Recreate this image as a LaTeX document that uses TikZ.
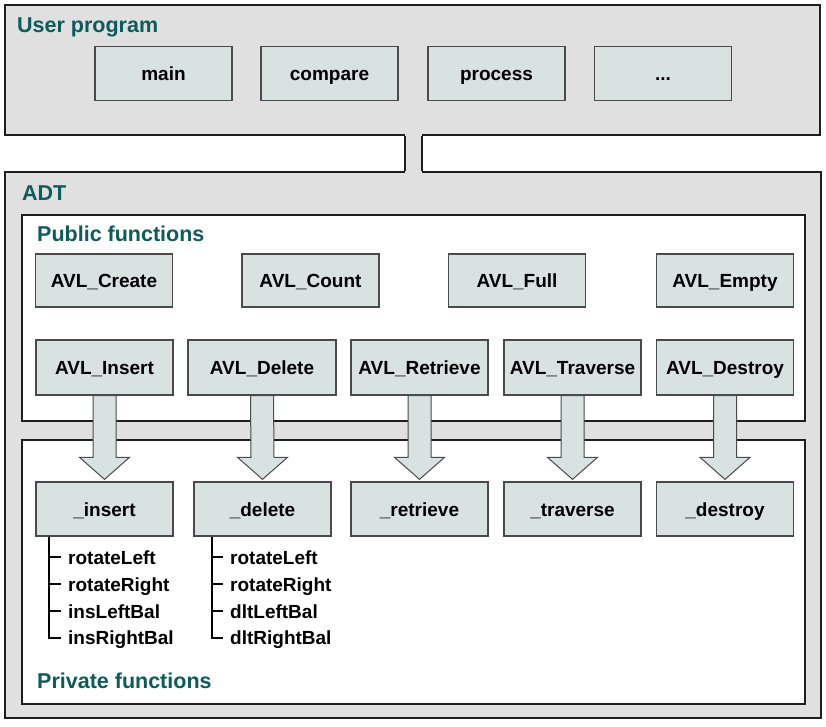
\documentclass[tikz,border=0pt]{standalone}
\usepackage{fontspec}
\setmainfont{Liberation Sans}
\usetikzlibrary{calc,positioning}
\definecolor{adtgray}{HTML}{E0E0E0}
\definecolor{fnfill}{HTML}{D8E2E0}
\definecolor{headteal}{HTML}{0E5B5B}
\definecolor{boxdark}{HTML}{1E1E1E}
\definecolor{fnedge}{HTML}{4A4A4A}
\tikzset{
  areabox/.style={
    draw=boxdark,
    line width=2.4pt,
    inner sep=0pt
  },
  graybox/.style={
    areabox,
    fill=adtgray
  },
  whitebox/.style={
    areabox,
    fill=white
  },
  fnbox/.style={
    draw=fnedge,
    fill=fnfill,
    line width=1.3pt,
    minimum width=137pt,
    minimum height=54pt,
    inner sep=0pt,
    text height=16.5pt,
    text depth=2pt,
    font=\bfseries\fontsize{19}{22}\selectfont
  },
  heading/.style={
    anchor=base west,
    inner sep=0pt,
    text=headteal,
    font=\bfseries\fontsize{21.5}{24}\selectfont
  },
  helper/.style={
    text width=120pt,
    align=left,
    inner xsep=7pt,
    inner ysep=0pt,
    text height=16.5pt,
    text depth=2pt,
    minimum height=26.5pt,
    font=\bfseries\fontsize{19}{22}\selectfont
  },
  treeline/.style={
    draw=black,
    line width=2.2pt
  },
  fatarrow/.style={
    draw=fnedge,
    fill=fnfill,
    line width=1pt,
    line join=miter
  }
}
\begin{document}
\begin{tikzpicture}[x=1pt,y=-1pt]
    \useasboundingbox (0,0) rectangle (826,726);

    % areas
    \node[graybox, minimum width=815pt, minimum height=130pt] (user) at (412.5,70) {};
    \node[graybox, minimum width=816pt, minimum height=546pt] (adt) at (413,445) {};
    \node[whitebox, minimum width=783pt, minimum height=206pt] (public) at (413.5,318) {};
    \node[whitebox, minimum width=783pt, minimum height=264pt] (private) at (413.5,572) {};

    % pipe between user program and ADT
    \fill[adtgray] ($(user.south)+(-7.5,-2)$) rectangle ($(user.south |- adt.north)+(9.5,2)$);
    \draw[areabox] ([xshift=-7.5pt]user.south) -- ([xshift=-7.5pt]user.south |- adt.north);
    \draw[areabox] ([xshift=9.5pt]user.south) -- ([xshift=9.5pt]user.south |- adt.north);

    \node[heading] (tuser) at (17,32) {User program};
    \node[heading] (tadt) at (22,200) {ADT};
    \node[heading] (tpublic) at (37,241) {Public functions};
    \node[heading] (tprivate) at (37,688) {Private functions};

    % user program
    \node[fnbox] (main) at (163.5,73.5) {main};
    \node[fnbox] (compare) at (329.5,73.5) {compare};
    \node[fnbox] (process) at (496.5,73.5) {process};
    \node[fnbox] (more) at (663,73.5) {...};

    % public functions
    \node[fnbox, minimum height=53pt] (pcre) at (104,280.5) {AVL\_Create};
    \node[fnbox, minimum height=53pt] (pcnt) at (310.5,280.5) {AVL\_Count};
    \node[fnbox, minimum height=53pt] (pful) at (517,280.5) {AVL\_Full};
    \node[fnbox, minimum height=53pt] (pemp) at (725,280.5) {AVL\_Empty};

    \node[fnbox, minimum height=55pt] (pins) at (104.5,367.5) {AVL\_Insert};
    \node[fnbox, minimum height=55pt, minimum width=148pt] (pdel) at (262,367.5) {AVL\_Delete};
    \node[fnbox, minimum height=55pt] (pret) at (419.5,367.5) {AVL\_Retrieve};
    \node[fnbox, minimum height=55pt] (ptra) at (572.5,367.5) {AVL\_Traverse};
    \node[fnbox, minimum height=55pt] (pdes) at (725,367.5) {AVL\_Destroy};

    % private functions
    \node[fnbox] (ins) at (104.5,509) {\_insert};
    \node[fnbox] (del) at (262.5,509) {\_delete};
    \node[fnbox] (ret) at (419.5,509) {\_retrieve};
    \node[fnbox] (tra) at (572.5,509) {\_traverse};
    \node[fnbox] (des) at (725,509) {\_destroy};

    \foreach \src/\dst in {pins/ins,pdel/del,pret/ret,ptra/tra,pdes/des}{
        \draw[fatarrow] ([xshift=-11.5pt]\src.south)
            -- ([xshift=-11.5pt,yshift=24pt]\dst.north)
            -- ([xshift=-25pt,yshift=24pt]\dst.north)
            -- ([yshift=2pt]\dst.north)
            -- ([xshift=25pt,yshift=24pt]\dst.north)
            -- ([xshift=11.5pt,yshift=24pt]\dst.north)
            -- ([xshift=11.5pt]\src.south) -- cycle;
    }

    % helpers of _insert
    \node[helper, anchor=west] (ir1) at (61,557) {rotateLeft};
    \node[helper, below=0pt of ir1] (ir2) {rotateRight};
    \node[helper, below=0pt of ir2] (ir3) {insLeftBal};
    \node[helper, below=0pt of ir3] (ir4) {insRightBal};
    \foreach \n in {ir1,ir2,ir3,ir4}
        \draw[treeline] ([xshift=14pt]ins.south west) |- (\n.west);

    % helpers of _delete
    \node[helper, anchor=west] (dr1) at (223,557) {rotateLeft};
    \node[helper, below=0pt of dr1] (dr2) {rotateRight};
    \node[helper, below=0pt of dr2] (dr3) {dltLeftBal};
    \node[helper, below=0pt of dr3] (dr4) {dltRightBal};
    \foreach \n in {dr1,dr2,dr3,dr4}
        \draw[treeline] ([xshift=19pt]del.south west) |- (\n.west);
\end{tikzpicture}
\end{document}
